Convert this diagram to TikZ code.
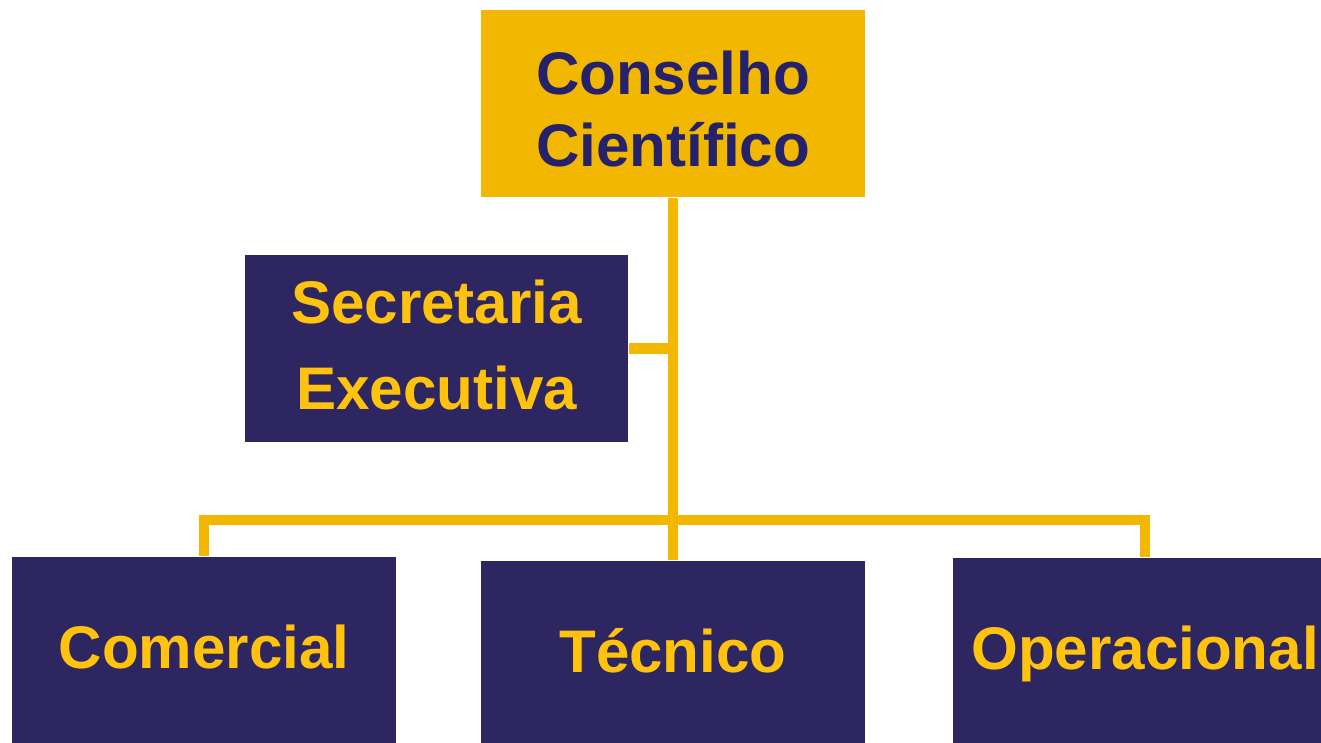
\documentclass[tikz,border=0pt]{standalone}
\usepackage{fontspec}
\setmainfont{Liberation Sans}
\definecolor{ouro}{HTML}{F2B700}
\definecolor{marinho}{HTML}{2D2660}
\definecolor{tinta}{HTML}{25216B}
\definecolor{letra}{HTML}{FFC20E}
\begin{document}
\begin{tikzpicture}[x=0.01cm,y=-0.01cm,
        caixa/.style={rectangle,fill=marinho,text=letra,minimum width=3.84cm,minimum height=1.87cm,
            inner sep=0pt,align=center,font=\bfseries\fontsize{17.1}{24.5}\selectfont},
        unica/.style={caixa,text height=0.45cm,text depth=0.1cm},
        topo/.style={caixa,fill=ouro,text=tinta,font=\bfseries\fontsize{17.1}{20.5}\selectfont},
        linha/.style={draw=ouro,line width=0.1cm}]
        % Frame
        \useasboundingbox (0,0) rectangle (1321,743);
        \clip (0,0) rectangle (1321,743);

        % Boxes
        \node[topo] (conselho) at (673,103.5) {\rule{0pt}{0.54cm}Conselho\\Científico};
        \node[caixa,minimum width=3.83cm] (secretaria) at (436.5,348.5)
            {Secretaria\\Executiva\rule[-0.07cm]{0pt}{0.07cm}};
        \node[unica] (comercial) at (204,650.5) {Comercial};
        \node[unica] (tecnico) at (673,654.5) {Técnico};
        \node[unica] (operacional) at (1145,651.5) {Operacional};

        % Lines
        \coordinate (barra) at (673,520);
        \draw[linha] (conselho.south) -- (tecnico.north);
        \draw[linha] (secretaria.east) -- (secretaria.east -| conselho.south);
        \draw[linha] (comercial.north) |- (barra) -| (operacional.north);
    \end{tikzpicture}
\end{document}
